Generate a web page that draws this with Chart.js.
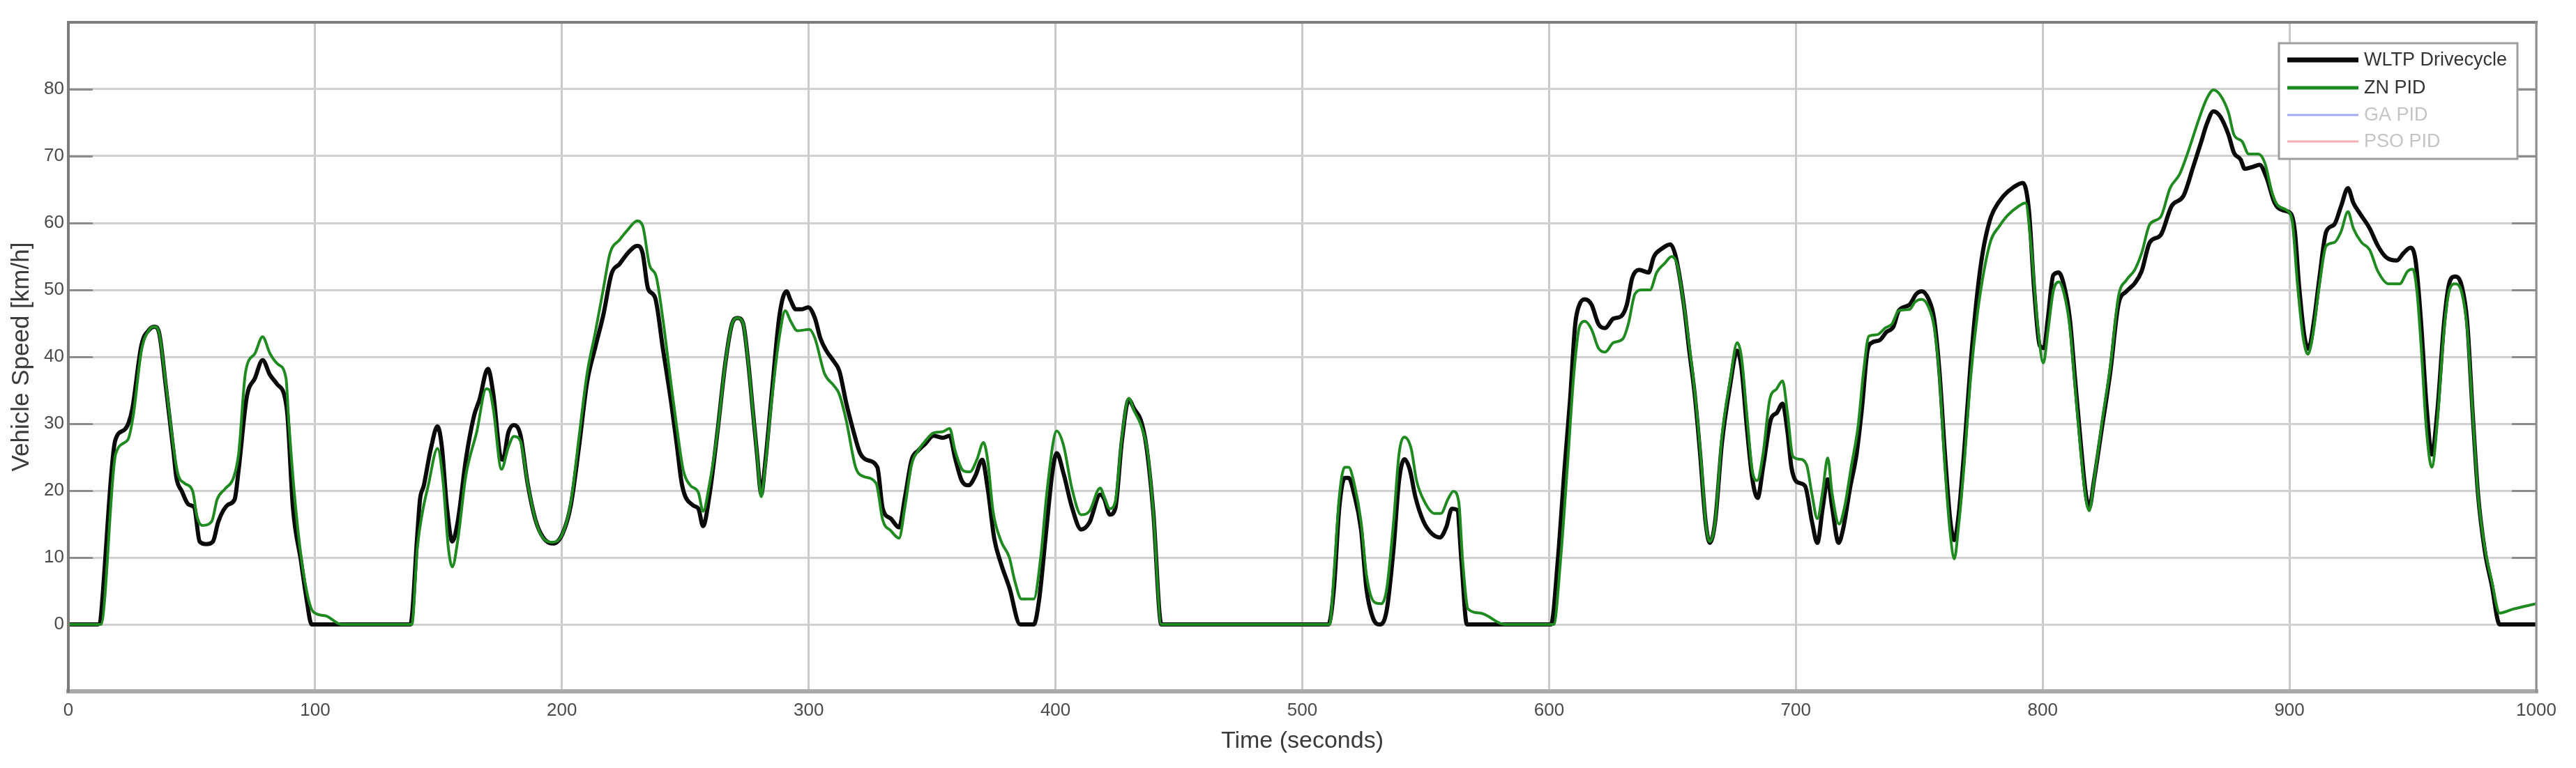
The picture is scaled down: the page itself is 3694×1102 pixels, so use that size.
<!DOCTYPE html>
<html><head><meta charset="utf-8">
<script src="https://cdn.jsdelivr.net/npm/chart.js@4.4.1/dist/chart.umd.min.js"></script>
<style>html,body{margin:0;padding:0;background:#fff;overflow:hidden}canvas{display:block}</style>
</head><body>
<canvas id="c" width="3694" height="1102"></canvas>
<script>
// ---- data ----
const seriesLabels = ['WLTP Drivecycle', 'ZN PID', 'GA PID', 'PSO PID'];
const xTickValues = [0,100,200,300,400,500,600,700,800,900,1000];
const yTickLabels = [0,10,20,30,40,50,60,70,80];

const wltpTime = [0,12,19,23,25.8,29.6,32.9,34.9,36.7,39.5,42.7,43.8,46,48.8,51,53.2,55.9,58.6,60.8,64.7,67.4,69,72.3,75.6,78.7,81.7,84.4,87.7,88.8,91,94.3,96.4,98.6,
138.6,141.4,142.5,144,146.9,149.6,151.3,153.4,155.6,157.8,161.1,164.4,166.6,170,172.2,175,176.1,178.3,180.5,183.2,186,189.3,192.6,196.4,200.3,203.6,206.9,210.2,213.5,216.8,220.1,223.4,226.7,230.5,232.7,234.9,237.7,241,244.3,246.5,248.7,253.1,255.3,257.2,259.7,263,266.3,269,271.2,273.4,275.6,277.3,279,280.8,282.2,285,288.2,291,292.6,294.8,297,299.8,302.5,304.7,307,310.2,312.4,315.2,317.9,320.7,323.4,327.8,330,333.3,336.6,339,341.7,344.4,347.2,350.5,354.3,357.1,359.3,362,364.8,367.5,370.3,372.5,375.2,378,381.3,385.7,391.2,393.4,396.1,398.9,400.5,403.3,406.6,410.4,413.7,418.1,419.8,422,424.2,426.9,429.7,431.9,434.6,436.8,439.6,442.9,
510.6,512.8,515,517.2,518.8,521,523.8,526,528.7,531.5,534.2,537,539.2,541.4,543.6,545.8,549.1,552.4,555.7,558.4,560.6,562.8,564.5,566.7,
600.8,603.5,606.3,608.5,610.6,612.3,614.5,617.2,620,622.7,626,629.3,631.5,633.7,636.5,640.3,642.5,645.8,649.1,651.3,654.6,656.8,659,661.2,663.4,665.1,667.3,670,673.3,676.2,677.9,680.1,682.3,684.5,686.7,690,692.2,694.6,696.6,698.2,700.4,703.7,706.5,708.7,710.9,712.9,714.7,717.3,719.1,721.9,724.6,726.8,729,730.7,734,736.7,739.5,741.7,746.1,748.8,751,753.8,756,758.2,760.4,762.6,764.2,765.9,768.1,770.8,773.6,775.8,778.5,780.2,784,788,792,794.4,796.6,798.8,800.5,802.1,804.3,806.5,808.7,811,813.1,815.3,817.5,818.9,820.8,824.1,827.4,830.7,834,837.3,840.1,843.4,847.8,852.2,857.1,861,864.3,866.5,869.2,872,875.3,877.5,880.2,881.9,885.2,887.9,890.7,894,897.3,900.6,902.2,903.9,906.1,907.7,909.9,912.1,914.9,918.2,920.9,923.7,925.9,928.6,932.5,935.8,939.1,943.5,946.2,949,951.1,953.3,955.5,957.7,959.9,962.7,964.9,967.1,969.8,972,974.2,976.4,979.2,981.9,985.2,1000];
const wltpSpeed = [0,0,27.5,29.2,32,41.7,44.1,44.5,43.7,35.6,25.5,21.9,19.9,17.9,17.5,12.4,12.0,12.4,15.4,17.9,18.7,23.1,34,36.8,39.5,37.3,36,34,31.2,17.5,9.4,4.1,0,
0,13.4,18.7,20.7,26.3,29.6,26.7,17.5,12.4,15.4,24.7,31.2,33.6,38.2,34.4,25.2,24.6,28.7,29.8,28.3,21.3,15.6,12.9,12.1,13.6,17.8,26.5,36.2,41.4,46.3,52.4,53.9,55.5,56.6,55.5,50.2,48.9,41,33.1,27,20.8,17.8,17.3,14.7,19.1,28.7,39.3,45,45.8,45,38.8,32.2,25.7,19.5,23.5,34.4,46.3,49.8,48.5,47.1,47.1,47.4,45.8,42.8,41,39.3,37.9,33.1,29.2,25.7,24.6,23.5,17.3,15.8,14.5,19,24.6,26,27,28.2,27.9,28.2,24.9,21.5,20.8,22.2,24.6,20.4,12.8,9,5.5,0,0,3.8,13.5,23.2,25.6,22.5,17.6,14.2,15.2,19.4,18.7,16.4,17.3,27.4,33.6,32.2,30.5,26.7,16.9,0,
0,5.3,17.5,21.9,21.9,19.5,14.2,5.3,0.9,0,2.1,11.4,21.5,24.7,23.1,19.1,15.4,13.6,13,14.6,17.3,17.1,9.4,0,
0,9.4,23.5,33.6,44.9,47.8,48.6,47.8,44.9,44.3,45.7,46.1,47.8,51.8,53,52.6,55,56.2,56.8,55,47.8,40.9,34.4,25.5,15.4,12.2,15.4,27,35.6,40.9,38.5,29.6,21.9,18.9,23.5,30.8,31.6,33,28.8,23.5,21.3,20.7,15.4,12.2,17.5,21.7,17.5,12.2,14.2,20.3,25.5,32.4,40.9,42.1,42.5,43.7,44.5,46.9,47.8,49.4,49.8,48.6,45.7,37.7,25.5,15.4,12.6,16.2,25.5,38.9,49.8,55.8,60.3,61.9,64,65.3,66,62,49.8,41.7,41.3,45.7,52.2,52.6,50.6,45.7,36.8,27.6,19.5,17.5,21.5,29.6,37.7,47.8,49.8,51,52.8,57.1,58.2,62.5,64.1,68.4,72.2,74.8,76.7,75.9,73.2,70.5,69.5,68.1,68.4,68.7,66.8,63,61.9,61.4,58.7,50.6,43,41.2,45.3,51.7,58.7,59.8,62.5,65.2,63,61.4,59.2,56.6,54.9,54.4,55.5,56.3,54.4,45.3,32.9,25.4,31.8,45.3,51.2,52,50.6,45.3,31.8,19.5,10.9,6,0,0];

const znTime = [0,13.2,19.2,24.1,26.3,29.6,32.9,34.9,36.7,39.5,42.7,44.4,47.1,50.4,52.1,54.3,58.1,60.3,63.6,66.9,69,71.8,75.6,78.7,81.7,84.9,88.2,89.3,92.1,95.4,99.2,104.1,110.7,
139.2,141.4,143.6,145.8,149.6,151.8,154,155.6,157.8,161.1,165.5,169.3,170.5,172.2,175.5,178.3,180.5,183.2,186,189.3,192.6,196.4,200.3,203.6,206.9,210.2,213.5,216.8,219.5,223.4,226.7,230.5,232.7,235.5,238.2,241,244.3,246.5,249.2,252,255.3,257.2,259.7,263,266.3,269,271.2,273.4,275.6,277.3,279,280.8,282.2,285,288.2,290.5,292.6,295.4,300.3,302.5,306.4,310.2,312.4,315.2,319,322.3,327.3,330,333.3,336.6,339,341.7,344.4,347.2,350.5,354.3,357.1,359.3,362.6,365.3,368.1,370.8,372.5,374.7,378,381.3,383.5,386.2,391.2,394,396.7,400.5,403.3,406.6,410.4,413.7,418.1,419.8,422,424.2,426.9,429.7,431.9,434.6,437.4,439.6,442.9,
511.1,512.8,515,517.2,518.8,521,523.8,526,529.3,532,534.2,537,539.2,541.4,544.1,546.3,549.6,553.5,556.2,559,561.2,563.4,565,567.2,572.2,582,
601.9,604.6,607.4,610.1,612.3,614.5,617.2,620,622.7,626,629.9,632.1,634.8,637.6,640.9,643.6,646.9,649.7,651.9,654.6,656.8,659.6,661.8,663.4,665.1,667.3,670,673.5,676.2,677.9,680.1,682.3,684.3,686.7,689.4,692.2,694.6,696.6,698.8,701.5,704.3,706.5,708.7,710.9,712.9,714.7,717.5,719.7,722.4,725.2,727.4,729.6,732.9,736.2,738.9,741.7,746.1,748.3,751,753.8,756,758.2,760.4,762.6,764.2,765.9,768.1,770.8,773.6,776.3,779.1,782.4,785.7,790.2,793,795.5,797.7,800.3,802.1,804.3,806.5,808.7,811,813.1,815.3,817.5,818.9,820.8,824.1,827.4,830.7,834,837.3,840.1,843.4,847.8,851.6,855.5,858.8,863.2,866.5,869.2,872,875.3,877.5,880.8,883.5,887.4,890.1,892.9,895.1,898.9,901.1,903.3,905.5,907.5,909.4,912.1,914.9,918.2,920.9,923.7,925.9,929.2,932.5,935.8,940.2,944.6,947.9,950,951.7,953.3,955.5,957.7,959.9,962.7,964.9,967.1,969.8,972,974.2,976.4,979.2,981.9,985.2,990.7,1000];
const znSpeed = [0,0,25.5,27.6,31.2,40.9,44.1,44.5,43.7,36,26.3,22.5,21.1,19.9,16.2,14.8,15.4,18.7,20.3,21.9,25.5,37.7,40.5,43,40.5,38.9,36.8,30.4,17.5,7.4,1.9,1.3,0,
0,11.4,17,20.7,26.3,21.5,11.4,8.6,12.6,22.3,28.8,35.2,35.1,32.2,23.2,26.5,28.1,27.4,21.3,15.6,12.8,12.3,13.6,18.2,27.9,37.5,43.6,50.2,55.5,57.5,59,60.3,59.6,53.7,52,45.4,35.7,29.6,23,20.8,19.7,16.9,20.8,28.7,39.3,45,45.8,45,38.8,32.2,25.7,19.1,23,33.5,43.2,46.9,45.4,43.9,44.1,42.8,37.5,35.7,34.4,30.5,23.5,22.1,21.1,15.6,14,12.9,17.6,23.9,26,27.4,28.6,28.8,29.3,26,23,22.8,24.6,27.2,24.6,16.9,12.4,10,6.5,3.8,3.8,10,20.4,28.9,26.7,20.4,16.4,16.9,20.4,19,17.3,18.3,28,33.8,31.9,29.8,25.6,16.9,0,
0,7.4,19.1,23.5,23.5,21.1,15.4,7.4,3.3,3.1,5.3,15.4,25.5,28,26.3,21.5,18.3,16.6,16.6,18.7,19.9,18.3,9.4,2.3,1.7,0,
0,9.4,23.5,37.7,44.5,45.3,44.1,41.3,40.7,42.1,42.7,44.9,49.4,50,50,52.6,54,55,53.8,47.8,41.7,32.8,23.5,15.4,12.4,15.4,28,36.8,42.1,40.1,31.5,23.1,21.5,25.5,33.6,35.2,36.4,31.6,25.1,24.7,23.9,19.5,15.8,20,24.9,19.5,15,17.5,23.5,29.6,37.7,43.1,43.3,44.3,44.9,46.9,47.1,48.2,48.6,47.4,44.5,36.8,23.5,13.4,9.8,14.6,23.5,36.8,46.5,53,57.5,59.5,61.1,62.5,63,55.8,45.7,39.1,43.7,49.8,51.2,49.4,44.5,35.6,26.3,18.7,17,21.5,30.4,38.5,49,51.5,53,55.5,59.8,60.9,65.2,67.3,70.5,75.4,78.6,79.9,79.1,76.5,73.2,72.2,70.3,70.3,68.9,64.6,62.7,61.9,60.3,50.6,43,40.4,43.1,50.6,56.6,57.1,58.7,61.7,59.2,57.1,56,52.8,50.9,50.9,52.8,53.1,49.6,41.9,29.1,23.5,30.2,44.2,50.1,50.9,49.6,44.2,31.8,19.5,11.4,6.6,1.7,2.3,3.1];

// ---- chart ----
const FONT = "'Liberation Sans', Arial, sans-serif";
const pts = (t, v) => t.map((x, i) => ({x: x, y: v[i]}));

const framePlugin = {
  id: 'frame',
  beforeDatasetsDraw(chart) {
    const {ctx, chartArea: a, scales: {y}} = chart;
    ctx.save();
    ctx.strokeStyle = '#8c8c8c';
    ctx.lineWidth = 3;
    y.ticks.forEach(t => {
      if (t.value < 0 || t.value > 80) return;
      const py = Math.round(y.getPixelForValue(t.value)) + 0.5;
      ctx.beginPath();
      ctx.moveTo(a.left, py); ctx.lineTo(a.left + 35, py);
      ctx.moveTo(a.right - 35, py); ctx.lineTo(a.right, py);
      ctx.stroke();
    });
    ctx.restore();
  },
  afterDatasetsDraw(chart) {
    const {ctx, chartArea: a} = chart;
    ctx.save();
    // axes frame
    ctx.lineCap = 'square';
    ctx.strokeStyle = '#a9a9a9'; ctx.lineWidth = 6;
    ctx.beginPath(); ctx.moveTo(a.left, a.bottom); ctx.lineTo(a.right, a.bottom); ctx.stroke();
    ctx.strokeStyle = '#7d7d7d'; ctx.lineWidth = 4;
    ctx.beginPath(); ctx.moveTo(a.left, a.bottom); ctx.lineTo(a.left, a.top); ctx.lineTo(a.right, a.top); ctx.stroke();
    ctx.strokeStyle = '#8f8f8f'; ctx.lineWidth = 3;
    ctx.beginPath(); ctx.moveTo(a.right, a.top); ctx.lineTo(a.right, a.bottom); ctx.stroke();

    // legend box
    const L = a.right - 369, R = a.right - 27, T = a.top + 30, B = a.top + 196;
    ctx.fillStyle = '#ffffff';
    ctx.fillRect(L, T, R - L, B - T);
    ctx.strokeStyle = '#9e9e9e'; ctx.lineWidth = 3;
    ctx.strokeRect(L, T, R - L, B - T);
    const rows = [24, 64, 103, 141];
    ctx.font = '27px ' + FONT;
    ctx.textBaseline = 'middle';
    ctx.textAlign = 'left';
    ctx.lineCap = 'butt';
    chart.data.datasets.forEach((ds, i) => {
      const yy = T + rows[i];
      ctx.strokeStyle = ds.borderColor;
      ctx.lineWidth = ds.legendLineWidth;
      ctx.beginPath(); ctx.moveTo(L + 12, yy); ctx.lineTo(L + 114, yy); ctx.stroke();
      ctx.fillStyle = ds.legendTextColor;
      ctx.fillText(ds.label, L + 122, yy + 1);
    });
    ctx.restore();
  }
};

new Chart(document.getElementById('c'), {
  type: 'line',
  data: {
    datasets: [
      {label: seriesLabels[0], data: pts(wltpTime, wltpSpeed), borderColor: '#0a0a0a', borderWidth: 6, order: 2, legendLineWidth: 7, legendTextColor: '#333333'},
      {label: seriesLabels[1], data: pts(znTime, znSpeed), borderColor: '#1f8a1f', borderWidth: 4, order: 1, legendLineWidth: 5, legendTextColor: '#333333'},
      {label: seriesLabels[2], data: [], borderColor: '#a3a8f5', borderWidth: 2, order: 3, legendLineWidth: 3, legendTextColor: '#c4c4c4'},
      {label: seriesLabels[3], data: [], borderColor: '#f3b0b0', borderWidth: 2, order: 4, legendLineWidth: 3, legendTextColor: '#c4c4c4'}
    ]
  },
  options: {
    responsive: false,
    animation: false,
    devicePixelRatio: 1,
    layout: {padding: {top: 32, right: 57, left: 0, bottom: 0}},
    elements: {
      point: {radius: 0, hoverRadius: 0},
      line: {cubicInterpolationMode: 'monotone', borderJoinStyle: 'round', borderCapStyle: 'round'}
    },
    plugins: {legend: {display: false}, tooltip: {enabled: false}},
    scales: {
      x: {
        type: 'linear', min: 0, max: 1000,
        afterBuildTicks: s => { s.ticks = xTickValues.map(v => ({value: v})); },
        afterFit: s => { s.height = 110; },
        grid: {color: '#c9c9c9', lineWidth: 3, drawTicks: false},
        border: {display: false},
        ticks: {font: {family: FONT, size: 26}, color: '#4a4a4a', padding: 12, maxRotation: 0, autoSkip: false,
                callback: v => String(v)},
        title: {display: true, text: 'Time (seconds)', font: {family: FONT, size: 34}, color: '#3a3a3a', padding: {top: 6, bottom: 18}}
      },
      y: {
        type: 'linear', min: -10, max: 90,
        afterBuildTicks: s => { const t = [-10].concat(yTickLabels, [90]); s.ticks = t.map(v => ({value: v})); },
        afterFit: s => { s.width = 98; },
        grid: {color: '#d0d0d0', lineWidth: 3, drawTicks: false},
        border: {display: false},
        ticks: {font: {family: FONT, size: 26}, color: '#4a4a4a', padding: 6,
                callback: v => (yTickLabels.includes(v) ? String(v) : '')},
        title: {display: true, text: 'Vehicle Speed [km/h]', font: {family: FONT, size: 35}, color: '#3a3a3a', padding: {top: 10, bottom: 0}}
      }
    }
  },
  plugins: [framePlugin]
});
</script>
</body></html>
